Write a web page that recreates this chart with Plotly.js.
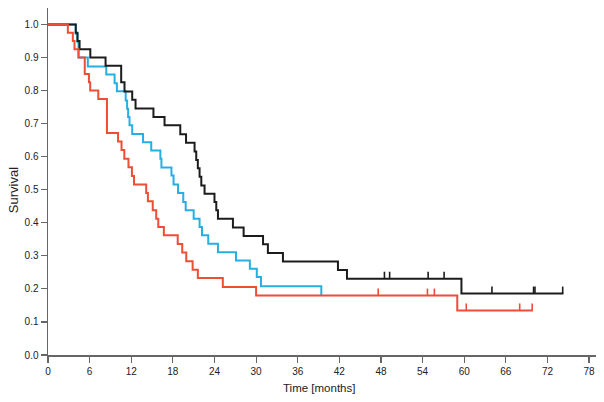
<!DOCTYPE html>
<html>
<head>
<meta charset="utf-8">
<script src="https://cdn.plot.ly/plotly-3.0.1.min.js"></script>
<style>html,body{margin:0;padding:0;background:#fff;}#chart{width:604px;height:402px;}</style>
</head>
<body>
<div id="chart"></div>
<script>
// Kaplan-Meier step data (time in months, survival)
const blackTime = [0, 4.0, 4.25, 4.55, 6.1, 8.3, 10.55, 11.03, 12.14, 12.62, 15.2, 16.8, 19.07, 19.9, 21.13, 21.37, 21.6, 21.85, 22.1, 22.57, 24.0, 24.26, 24.5, 26.66, 28.2, 31.0, 31.7, 33.87, 41.8, 43.1, 59.6, 74.3];
const blackSurv = [1.0, 0.975, 0.95, 0.925, 0.9, 0.875, 0.825, 0.797, 0.772, 0.746, 0.72, 0.695, 0.668, 0.642, 0.616, 0.59, 0.565, 0.539, 0.513, 0.488, 0.463, 0.438, 0.412, 0.386, 0.36, 0.335, 0.309, 0.283, 0.257, 0.231, 0.186, 0.186];
const blackCensT = [48.5, 49.25, 54.8, 57.1, 64.0, 70.0, 70.2, 74.2];
const blackCensS = [0.231, 0.231, 0.231, 0.231, 0.186, 0.186, 0.186, 0.186];

const blueTime = [0, 4.0, 4.25, 4.4, 5.74, 8.4, 9.6, 9.93, 11.2, 11.4, 11.55, 11.75, 12.14, 13.7, 14.88, 16.2, 16.35, 17.8, 18.1, 18.75, 19.5, 19.85, 21.0, 21.85, 22.2, 23.1, 24.5, 27.1, 29.1, 30.1, 30.7, 39.4];
const blueSurv = [1.0, 0.972, 0.947, 0.9, 0.873, 0.849, 0.822, 0.798, 0.77, 0.745, 0.72, 0.695, 0.669, 0.644, 0.619, 0.594, 0.567, 0.543, 0.516, 0.49, 0.463, 0.438, 0.412, 0.387, 0.362, 0.337, 0.311, 0.286, 0.261, 0.236, 0.208, 0.18];

const redTime = [0, 2.86, 3.58, 3.82, 4.4, 5.3, 5.9, 6.08, 7.25, 8.5, 10.1, 10.6, 11.0, 11.6, 12.1, 12.4, 14.16, 14.4, 15.1, 15.6, 15.9, 16.7, 18.7, 19.35, 19.93, 20.85, 21.6, 25.2, 30.0, 59.0, 69.9];
const redSurv = [1.0, 0.975, 0.95, 0.925, 0.9, 0.85, 0.825, 0.8, 0.775, 0.672, 0.646, 0.62, 0.594, 0.568, 0.542, 0.516, 0.49, 0.465, 0.438, 0.412, 0.387, 0.362, 0.336, 0.31, 0.284, 0.258, 0.233, 0.206, 0.18, 0.135, 0.135];
const redCensT = [47.6, 54.7, 55.7, 60.3, 68.0, 69.8];
const redCensS = [0.18, 0.18, 0.18, 0.135, 0.135, 0.135];

const xTicks = [0, 6, 12, 18, 24, 30, 36, 42, 48, 54, 60, 66, 72, 78];
const yTicks = [0, 0.1, 0.2, 0.3, 0.4, 0.5, 0.6, 0.7, 0.8, 0.9, 1.0];

const cBlack = '#1c1c1c', cBlue = '#27aee3', cRed = '#ee4d36';
const tickUp = 0.021;

function stepTrace(x, y, color) {
  return {x: x, y: y, type: 'scatter', mode: 'lines', line: {shape: 'hv', color: color, width: 2}, hoverinfo: 'skip', showlegend: false};
}
function censTrace(x, y, color) {
  return {x: x, y: y, type: 'scatter', mode: 'markers', marker: {size: 1, color: color, opacity: 0},
    error_y: {type: 'data', symmetric: false, array: x.map(() => tickUp), arrayminus: x.map(() => 0), width: 0, thickness: 1.6, color: color},
    hoverinfo: 'skip', showlegend: false};
}

const data = [
  stepTrace(blueTime, blueSurv, cBlue),
  stepTrace(blackTime, blackSurv, cBlack),
  censTrace(blackCensT, blackCensS, cBlack),
  stepTrace(redTime, redSurv, cRed),
  censTrace(redCensT, redCensS, cRed)
];

const axisCommon = {showgrid: false, zeroline: false, showline: true, linecolor: '#666', linewidth: 1.5,
  ticks: 'outside', ticklen: 6, tickwidth: 1.2, tickcolor: '#666',
  tickfont: {family: 'Liberation Sans, Arial, sans-serif', size: 10, color: '#222'}};

const layout = {
  width: 604, height: 402,
  margin: {l: 48, r: 8, t: 8, b: 47},
  paper_bgcolor: '#fff', plot_bgcolor: '#fff',
  xaxis: Object.assign({}, axisCommon, {range: [0, 79], tickvals: xTicks, ticktext: xTicks.map(String)}),
  yaxis: Object.assign({}, axisCommon, {range: [0, 1.05], tickvals: yTicks, ticktext: yTicks.map(v => v.toFixed(1))}),
  annotations: [
    {text: 'Time [months]', xref: 'paper', yref: 'paper', x: 0.494, y: 0, yshift: -33, xanchor: 'center', yanchor: 'middle', showarrow: false,
     font: {family: 'Liberation Sans, Arial, sans-serif', size: 11.5, color: '#222'}},
    {text: 'Survival', xref: 'paper', yref: 'paper', x: 0, xshift: -35, y: 0.475, xanchor: 'center', yanchor: 'middle', textangle: -90, showarrow: false,
     font: {family: 'Liberation Sans, Arial, sans-serif', size: 13, color: '#222'}}
  ]
};

Plotly.newPlot('chart', data, layout, {displayModeBar: false, staticPlot: true});
</script>
</body>
</html>
